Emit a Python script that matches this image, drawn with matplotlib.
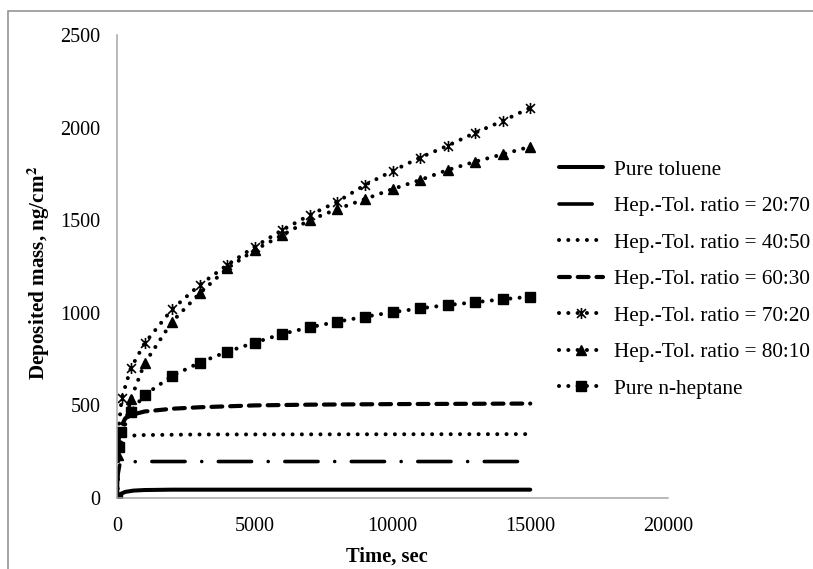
import matplotlib
matplotlib.use('Agg')
import matplotlib.pyplot as plt
from matplotlib.patches import Rectangle
from matplotlib.path import Path

plt.rcParams['font.family'] = ['Liberation Serif', 'DejaVu Serif']
plt.rcParams['mathtext.fontset'] = 'stix'

# deposited mass (ng/cm2) vs time (s) for each solvent mix
t_tol = [0, 100, 300, 600, 1000, 2000, 5000, 15000]
m_tol = [0, 20, 33, 40, 43, 45, 45, 45]

t_2070 = [0, 30, 100, 250, 1000, 15000]
m_2070 = [0, 120, 180, 195, 197, 197]

t_4050 = [0, 50, 110, 300, 1000, 3000, 15000]
m_4050 = [0, 250, 320, 335, 340, 343, 345]

t_6030 = [0, 50, 100, 300, 500, 1000, 2000, 3000, 5000, 7000, 10000, 15000]
m_6030 = [0, 300, 370, 430, 448, 467, 482, 490, 500, 504, 507, 510]

t_7020 = [0, 50, 170, 500, 1000, 2000, 3000, 4000, 5000, 6000, 7000, 8000,
          9000, 10000, 11000, 12000, 13000, 14000, 15000]
m_7020 = [0, 358, 538, 700, 835, 1019, 1150, 1258, 1357, 1447, 1528, 1600,
          1690, 1766, 1838, 1902, 1972, 2036, 2107]

t_8010 = [0, 50, 500, 1000, 2000, 3000, 4000, 5000, 6000, 7000, 8000,
          9000, 10000, 11000, 12000, 13000, 14000, 15000]
m_8010 = [0, 232, 533, 727, 952, 1105, 1240, 1339, 1420, 1501, 1560,
          1614, 1668, 1717, 1771, 1816, 1856, 1897]

t_hep = [0, 70, 130, 500, 1000, 2000, 3000, 4000, 5000, 6000, 7000, 8000,
         9000, 10000, 11000, 12000, 13000, 14000, 15000]
m_hep = [0, 277, 358, 466, 556, 659, 731, 790, 839, 886, 922, 952,
         979, 1003, 1024, 1042, 1057, 1073, 1087]

x_ticks = [0, 5000, 10000, 15000, 20000]
y_ticks = [0, 500, 1000, 1500, 2000, 2500]

# asterisk marker: an x with a vertical bar through it
star = Path([(-1, -1), (1, 1), (-1, 1), (1, -1), (0, -1.25), (0, 1.25)],
            [Path.MOVETO, Path.LINETO] * 3)

fig = plt.figure(figsize=(8.13, 5.69), dpi=100)
ax = fig.add_axes([117/813, 1-498/569, (668-117)/813, (498-35)/569])

lw = 2.9
dots = (0, (0.01, 2.3))
ax.plot(t_tol, m_tol, color='black', lw=2.9, solid_capstyle='round',
        label='Pure toluene')
ax.plot(t_2070, m_2070, color='black', lw=2.6, linestyle=(0, (9.2, 4.6, 0.01, 4.6)),
        dash_capstyle='round', label='Hep.-Tol. ratio = 20:70')
ax.plot(t_4050, m_4050, color='black', lw=lw, linestyle=dots,
        dash_capstyle='round', label='Hep.-Tol. ratio = 40:50')
ax.plot(t_6030, m_6030, color='black', lw=3.0, linestyle=(0, (2.6, 1.9)),
        dash_capstyle='round', label='Hep.-Tol. ratio = 60:30')
ax.plot(t_7020, m_7020, color='black', lw=lw, linestyle=dots,
        dash_capstyle='round', marker=star, markersize=8, markeredgewidth=1.2,
        label='Hep.-Tol. ratio = 70:20')
ax.plot(t_8010, m_8010, color='black', lw=lw, linestyle=dots,
        dash_capstyle='round', marker='^', markersize=7.5,
        label='Hep.-Tol. ratio = 80:10')
ax.plot(t_hep, m_hep, color='black', lw=lw, linestyle=dots,
        dash_capstyle='round', marker='s', markersize=6.5,
        label='Pure n-heptane')

ax.set_xlim(0, 20000)
ax.set_ylim(0, 2500)
ax.set_xticks(x_ticks)
ax.set_yticks(y_ticks)
ax.tick_params(length=0, labelsize=14.5, pad=12)
ax.tick_params(axis='x', pad=14)
for s in ['top', 'right']:
    ax.spines[s].set_visible(False)
for s in ['left', 'bottom']:
    ax.spines[s].set_color('#a6a6a6')
    ax.spines[s].set_linewidth(1.1)

ax.set_xlabel('Time, sec', fontsize=14.8, fontweight='bold')
ax.xaxis.set_label_coords(0.49, -0.104)
ax.set_ylabel('Deposited mass, ng/cm$^\\mathbf{2}$', fontsize=15.2,
              fontweight='bold')
ax.yaxis.set_label_coords(-0.118, 0.485)

ax.legend(loc='upper left', bbox_to_anchor=(559/813, 1-160/569),
          bbox_transform=fig.transFigure, frameon=False, fontsize=15.3,
          borderpad=0, borderaxespad=0, handlelength=2.05, handletextpad=0.55,
          labelspacing=0.78, numpoints=1)

# chart area border
fig.patches.append(Rectangle((8/813, -0.1), 1.2, 1 - 11/569 + 0.1,
                             transform=fig.transFigure, fill=False,
                             edgecolor='#8c8c8c', lw=1.1))

fig.savefig('out.png', dpi=100)
